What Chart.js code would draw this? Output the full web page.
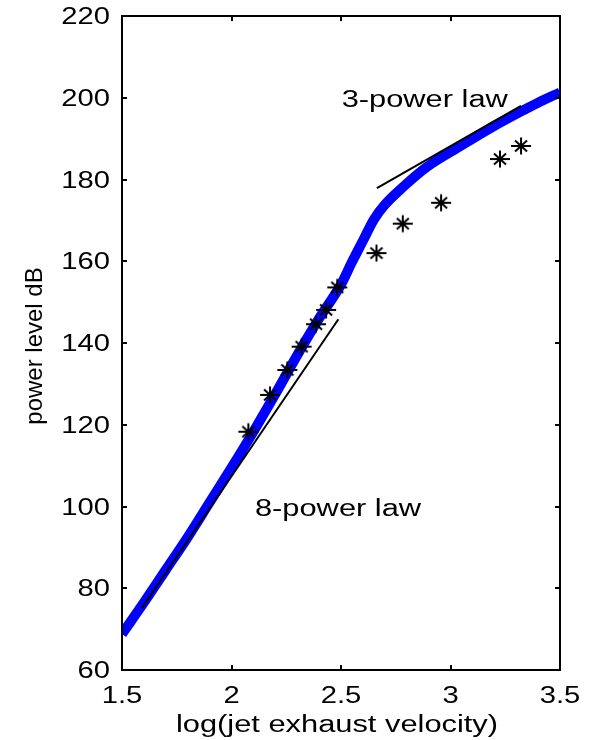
<!DOCTYPE html>
<html>
<head>
<meta charset="utf-8">
<script src="https://cdn.jsdelivr.net/npm/chart.js@4/dist/chart.umd.min.js"></script>
<style>
html,body{margin:0;padding:0;background:#fff;}
canvas{display:block;}
</style>
</head>
<body>
<canvas id="c" width="592" height="740"></canvas>
<script>
// ---- data ----
const curveX = [1.5, 1.6, 1.7, 1.8, 1.9, 2.0, 2.1, 2.2, 2.3, 2.4, 2.5, 2.55, 2.6, 2.65, 2.7, 2.78, 2.89, 3.04, 3.19, 3.32, 3.4, 3.5];
const curveY = [68.8, 76.5, 84.5, 92.5, 101, 109.5, 118.3, 127.5, 137, 146, 154.3, 159.8, 165, 170.2, 173.8, 178, 183, 188, 192.8, 196.6, 198.8, 201.3];

const starX = [2.077, 2.176, 2.255, 2.32, 2.386, 2.432, 2.483, 2.662, 2.782, 2.957, 3.226, 3.322];
const starY = [118.3, 127.3, 133.4, 139.1, 144.6, 148.1, 153.6, 162.0, 169.2, 174.3, 185.0, 188.2];

const law8X = [1.59, 2.488];
const law8Y = [75.1, 145.8];
const law3X = [2.664, 3.322];
const law3Y = [177.9, 198.0];

const xTickValues = [1.5, 2, 2.5, 3, 3.5];
const xTickLabels = ['1.5', '2', '2.5', '3', '3.5'];
const yTickValues = [60, 80, 100, 120, 140, 160, 180, 200, 220];
const yTickLabels = ['60', '80', '100', '120', '140', '160', '180', '200', '220'];

const xTitle = 'log(jet exhaust velocity)';
const yTitle = 'power level dB';
const notes = [
  {text: '3-power law', x: 2.503, y: 197.8},
  {text: '8-power law', x: 2.107, y: 97.7}
];

const pts = (xs, ys) => xs.map((x, i) => ({x: x, y: ys[i]}));

const FONT = '"Liberation Sans", Arial, sans-serif';

// MATLAB-like asterisk marker image
function makeStar() {
  const c = document.createElement('canvas');
  c.width = 22; c.height = 20;
  const g = c.getContext('2d');
  const cx = 11, cy = 10;
  g.strokeStyle = '#000';
  g.lineWidth = 2;
  g.beginPath();
  g.moveTo(cx - 10, cy); g.lineTo(cx + 10, cy);
  g.moveTo(cx, cy - 8.5); g.lineTo(cx, cy + 8.5);
  g.moveTo(cx - 6, cy - 5.5); g.lineTo(cx + 6, cy + 5.5);
  g.moveTo(cx - 6, cy + 5.5); g.lineTo(cx + 6, cy - 5.5);
  g.stroke();
  return c;
}
const starImg = makeStar();

function stretchedText(ctx, text, x, y, align, sx) {
  ctx.save();
  ctx.scale(sx, 1);
  ctx.textAlign = align;
  ctx.textBaseline = 'alphabetic';
  ctx.fillText(text, x / sx, y);
  ctx.restore();
}

const matlabAxes = {
  id: 'matlabAxes',
  beforeDraw(chart) {
    const ctx = chart.ctx;
    ctx.save();
    ctx.fillStyle = '#ffffff';
    ctx.fillRect(0, 0, chart.width, chart.height);
    ctx.restore();
  },
  afterDraw(chart) {
    const ctx = chart.ctx;
    const a = chart.chartArea;
    const xs = chart.scales.x, ys = chart.scales.y;
    ctx.save();
    ctx.strokeStyle = '#000';
    ctx.lineWidth = 2;
    ctx.strokeRect(a.left, a.top, a.right - a.left, a.bottom - a.top);
    const tl = 5;
    ctx.beginPath();
    xs.ticks.forEach(t => {
      const px = Math.round(xs.getPixelForValue(t.value));
      ctx.moveTo(px, a.bottom); ctx.lineTo(px, a.bottom - tl);
      ctx.moveTo(px, a.top); ctx.lineTo(px, a.top + tl);
    });
    ys.ticks.forEach(t => {
      const py = Math.round(ys.getPixelForValue(t.value));
      ctx.moveTo(a.left, py); ctx.lineTo(a.left + tl, py);
      ctx.moveTo(a.right, py); ctx.lineTo(a.right - tl, py);
    });
    ctx.stroke();

    ctx.fillStyle = '#000';
    ctx.font = '23px ' + FONT;
    xs.ticks.forEach((t, i) => {
      const px = xs.getPixelForValue(t.value);
      stretchedText(ctx, xTickLabels[i], px, a.bottom + 33, 'center', 1.27);
    });
    ys.ticks.forEach((t, i) => {
      const py = ys.getPixelForValue(t.value);
      stretchedText(ctx, yTickLabels[i], a.left - 12, py + 8, 'right', 1.27);
    });

    // x title
    stretchedText(ctx, xTitle, (a.left + a.right) / 2 - 4, 731.5, 'center', 1.34);

    // y title (rotated)
    ctx.save();
    ctx.font = '24px ' + FONT;
    ctx.translate(42, (a.top + a.bottom) / 2 + 3);
    ctx.rotate(-Math.PI / 2);
    ctx.textAlign = 'center';
    ctx.textBaseline = 'alphabetic';
    ctx.fillText(yTitle, 0, 0);
    ctx.restore();

    // annotations
    notes.forEach(n => {
      stretchedText(ctx, n.text, xs.getPixelForValue(n.x), ys.getPixelForValue(n.y), 'left', 1.34);
    });
    ctx.restore();
  }
};

new Chart(document.getElementById('c'), {
  type: 'line',
  data: {
    datasets: [
      {
        label: 'stars',
        data: pts(starX, starY),
        showLine: false,
        pointStyle: starImg,
        pointRadius: 10,
        order: 0
      },
      {
        label: '8-power law',
        data: pts(law8X, law8Y),
        borderColor: '#000',
        borderWidth: 2,
        pointRadius: 0,
        order: 1
      },
      {
        label: '3-power law',
        data: pts(law3X, law3Y),
        borderColor: '#000',
        borderWidth: 2,
        pointRadius: 0,
        order: 1
      },
      {
        label: 'curve',
        data: pts(curveX, curveY),
        borderColor: '#0000ff',
        borderWidth: 10,
        pointRadius: 0,
        cubicInterpolationMode: 'monotone',
        borderCapStyle: 'butt',
        borderJoinStyle: 'round',
        clip: 0,
        order: 3
      }
    ]
  },
  options: {
    responsive: false,
    animation: false,
    devicePixelRatio: 1,
    layout: {padding: {top: 16, right: 32, left: 0, bottom: 0}},
    plugins: {legend: {display: false}, tooltip: {enabled: false}},
    scales: {
      x: {
        type: 'linear',
        min: 1.5, max: 3.5,
        grid: {display: false},
        border: {display: false},
        ticks: {display: false},
        afterBuildTicks: s => { s.ticks = xTickValues.map(v => ({value: v})); },
        afterFit: s => { s.height = 70; }
      },
      y: {
        type: 'linear',
        min: 60, max: 220,
        grid: {display: false},
        border: {display: false},
        ticks: {display: false},
        afterBuildTicks: s => { s.ticks = yTickValues.map(v => ({value: v})); },
        afterFit: s => { s.width = 122; }
      }
    }
  },
  plugins: [matlabAxes]
});
</script>
</body>
</html>
